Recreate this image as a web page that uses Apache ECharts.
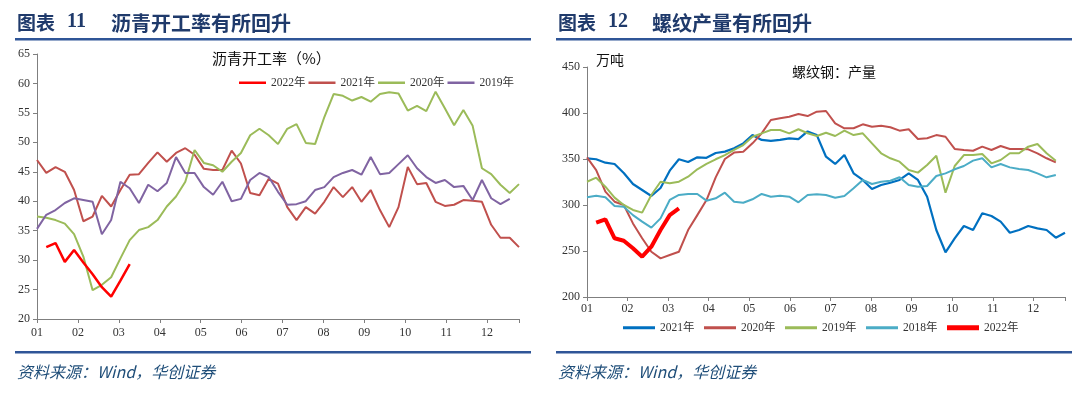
<!DOCTYPE html>
<html lang="zh-CN">
<head>
    <meta charset="UTF-8">
    <title>沥青开工率 / 螺纹产量</title>
    <script src="https://cdn.jsdelivr.net/npm/echarts/dist/echarts.min.js"></script>
    <style>
        body {
            margin: 0;
            background: #fff;
        }
        .wrap {
            display: flex;
            width: 1080px;
            height: 399px;
        }
        .panel {
            width: 540px;
            height: 399px;
        }
    </style>
</head>
<body>
    <div class="wrap">
        <div class="panel" id="chart-left"></div>
        <div class="panel" id="chart-right"></div>
    </div>

    <script>
        // 月份刻度
        const monthLabels = ['01', '02', '03', '04', '05', '06', '07', '08', '09', '10', '11', '12'];

        // 图表11 沥青开工率（%），周度
        const asphalt2022 = [null, 32.2, 32.9, 29.7, 31.7, 29.6, 27.6, 25.4, 23.8, 26.5, 29.3];
        const asphalt2021 = [47.0, 44.8, 45.8, 45.0, 41.9, 36.6, 37.4, 40.9, 39.1, 41.9,
            44.5, 44.6, 46.5, 48.3, 46.7, 48.2, 49.0, 47.9, 45.5, 45.3,
            45.3, 48.6, 46.4, 41.4, 41.0, 43.8, 43.0, 39.0, 36.8, 39.0,
            37.9, 39.9, 42.4, 40.7, 42.4, 39.9, 41.9, 38.5, 35.6, 39.0,
            45.8, 42.9, 43.1, 39.9, 39.2, 39.4, 40.2, 40.1, 39.9, 36.0,
            33.8, 33.8, 32.2];
        const asphalt2020 = [37.4, 37.2, 36.8, 36.2, 34.4, 30.6, 24.9, 25.8, 27.1, 30.3,
            33.4, 35.1, 35.6, 36.8, 39.1, 40.8, 43.3, 48.7, 46.5, 46.1,
            45.0, 46.7, 48.2, 51.2, 52.3, 51.2, 49.7, 52.3, 53.1, 49.9,
            49.7, 54.3, 58.2, 57.9, 57.1, 57.7, 56.9, 58.2, 58.5, 58.3,
            55.4, 56.2, 55.3, 58.6, 55.8, 52.9, 55.5, 52.8, 45.6, 44.6,
            42.8, 41.4, 42.9];
        const asphalt2019 = [35.3, 37.7, 38.5, 39.7, 40.5, 40.2, 39.9, 34.4, 36.8, 43.3,
            42.2, 39.7, 42.8, 41.7, 43.1, 47.5, 44.8, 44.8, 42.4, 41.1,
            43.3, 40.0, 40.4, 43.6, 44.8, 44.1, 41.6, 39.4, 39.5, 40.0,
            41.9, 42.4, 44.1, 44.8, 45.3, 44.5, 47.5, 44.6, 44.8, 46.3,
            47.8, 45.6, 44.1, 43.1, 43.6, 42.4, 42.6, 40.2, 43.6, 40.5,
            39.5, 40.4];

        // 图表12 螺纹钢产量（万吨），周度
        const rebar2021 = [350.7, 349.7, 346, 344.6, 334.8, 322.8, 316.3, 309.8, 318.5, 337.3,
            349.7, 346.7, 351.8, 351.3, 356.5, 358, 361.6, 367, 376, 370.7,
            369.6, 370.7, 372.5, 371.7, 380, 376, 352.5, 344.6, 354.3, 334.4,
            327.2, 317.4, 321.7, 324.2, 327.2, 334.4, 327.2, 309, 272.8, 248.6,
            263.8, 277.2, 272.8, 291, 288, 281.9, 269.9, 272.8, 277.2, 274.6,
            272.8, 264.5, 269.9];
        const rebar2020 = [351.8, 338, 314.5, 303.6, 300, 280, 263.8, 249.2, 242, 245.6,
            249.2, 272.8, 289, 305.4, 330, 350, 357, 358, 367, 377.9,
            392.4, 394.2, 396, 398.9, 396.7, 401.4, 402.2, 388.8, 383.4, 383.4,
            387.7, 385.1, 386.2, 384.5, 380.8, 382.3, 371.7, 372.5, 376, 374.2,
            360.9, 359.8, 359, 363.4, 359.8, 364.1, 360.9, 360.9, 360.5, 356.2,
            350.8, 346.4];
        const rebar2019 = [325.3, 329.7, 319.9, 308, 300, 294.6, 291.7, 310.9, 325.3, 323.6,
            325.3, 330.8, 338.8, 344.6, 349.7, 354.3, 359.8, 365.2, 374.2, 377.9,
            381.5, 381.5, 377.9, 382.3, 378, 375, 378.6, 375, 380.8, 376,
            377.9, 367, 356.2, 350.8, 347.1, 338, 335.2, 343.5, 353.6, 313.4,
            342.4, 354.3, 354.3, 355.4, 345.3, 348.9, 356.2, 356.2, 363.4, 366.3,
            356.2, 348.2];
        const rebar2018 = [308.4, 310.1, 308.4, 298.9, 298.2, 289, 281.9, 275.4, 285.5, 305.5,
            310.9, 312, 312, 304.7, 307.3, 313.4, 303.6, 302.5, 306.2, 312,
            309, 310.1, 309, 302.9, 310.9, 311.6, 310.9, 307.9, 309.8, 318.1,
            327.2, 322.8, 325.3, 326.4, 330.1, 321.7, 319.9, 320.6, 331.5, 334.4,
            338.8, 342.4, 348.2, 350.8, 340.9, 344.6, 340.9, 339.1, 338, 334.4,
            330.1, 332.6];
        const rebar2022 = [null, 280.8, 284.5, 263.8, 261.2, 252.9, 243.8, 254.7, 272.8, 289, 296.4];

        // 周序号（隐藏的类目轴）
        const weeks = Array.from({ length: 53 }, (_, i) => 'W' + (i + 1));

        const serif = "'Liberation Serif', 'Noto Sans CJK SC', serif";
        const cjk = "'Noto Sans CJK SC', sans-serif";
        const axisColor = '#7f7f7f';
        const headBlue = '#1f3a6b';
        const ruleBlue = '#2f5597';

        // 月份刻度轴 + 周度数据轴
        function xAxes(labelMargin) {
            return [
                { type: 'category', data: weeks, boundaryGap: false, show: false, position: 'bottom' },
                {
                    type: 'value', min: 0, max: 11.78, interval: 1, position: 'bottom',
                    axisLine: { lineStyle: { color: axisColor } },
                    axisTick: { length: 4, lineStyle: { color: axisColor } },
                    splitLine: { show: false },
                    axisLabel: {
                        margin: labelMargin, fontFamily: serif, fontSize: 12, color: '#333',
                        formatter: v => Math.abs(v - Math.round(v)) < 1e-6 ? (monthLabels[Math.round(v)] || '') : ''
                    }
                }
            ];
        }

        function yAxis(min, max, interval) {
            return {
                type: 'value', min: min, max: max, interval: interval,
                axisLine: { show: true, lineStyle: { color: axisColor } },
                axisTick: { show: true, length: 4, lineStyle: { color: axisColor } },
                splitLine: { show: false },
                axisLabel: { margin: 7, fontFamily: serif, fontSize: 12, color: '#333' }
            };
        }

        function line(name, data, color, width, z) {
            return {
                name: name, type: 'line', data: data, xAxisIndex: 0,
                symbol: 'none', z: z || 2,
                lineStyle: { color: color, width: width },
                itemStyle: { color: color }
            };
        }

        // 图例：只画线段
        function legendItem(name, w, h) {
            return { name: name, icon: 'path://M0,0H' + w + 'V' + h + 'H0Z' };
        }

        // 标题、分隔线、资料来源
        function frame(num, title, left) {
            return [
                { type: 'text', left: left, top: 13, style: { text: '图表', font: 'bold 19px ' + cjk, fill: headBlue } },
                { type: 'text', left: left + 50, top: 12, style: { text: num, font: 'bold 20px ' + serif, fill: headBlue } },
                { type: 'text', left: left + 94, top: 13, style: { text: title, font: 'bold 20px ' + cjk, fill: headBlue } },
                { type: 'rect', left: left - 2, top: 38, shape: { width: 516, height: 2.5 }, style: { fill: ruleBlue } },
                { type: 'rect', left: left - 2, top: 351, shape: { width: 516, height: 2.5 }, style: { fill: ruleBlue } },
                { type: 'text', left: left, top: 364, style: { text: '资料来源：Wind，华创证券', font: 'italic 16px ' + cjk, fill: '#1f4e79' } }
            ];
        }

        const legendText = { fontFamily: serif, fontSize: 11.5, color: '#333' };

        const leftChart = echarts.init(document.getElementById('chart-left'));
        leftChart.setOption({
            animation: false,
            grid: { left: 37, top: 54, width: 482, height: 265 },
            xAxis: xAxes(8),
            yAxis: yAxis(20, 65, 5),
            legend: {
                data: [
                    legendItem('2022年', 27, 2.5), legendItem('2021年', 27, 2.5),
                    legendItem('2020年', 27, 2.5), legendItem('2019年', 27, 2.5)
                ],
                left: 239, top: 77, width: 300, padding: 0,
                itemWidth: 27, itemHeight: 12, itemGap: 3,
                textStyle: legendText
            },
            graphic: frame('11', '沥青开工率有所回升', 17).concat([
                { type: 'text', left: 212, top: 51, style: { text: '沥青开工率（%）', font: '15px ' + cjk, fill: '#111' } }
            ]),
            series: [
                line('2022年', asphalt2022, '#ff0000', 2.5, 5),
                line('2021年', asphalt2021, '#c0504d', 2),
                line('2020年', asphalt2020, '#9bbb59', 2),
                line('2019年', asphalt2019, '#8064a2', 2)
            ]
        });

        const rightChart = echarts.init(document.getElementById('chart-right'));
        rightChart.setOption({
            animation: false,
            grid: { left: 47, top: 67, width: 478, height: 230 },
            xAxis: xAxes(6),
            yAxis: yAxis(200, 450, 50),
            legend: {
                data: [
                    legendItem('2021年', 32, 3), legendItem('2020年', 32, 3),
                    legendItem('2019年', 32, 3), legendItem('2018年', 32, 3),
                    legendItem('2022年', 32, 5)
                ],
                left: 83, top: 322, width: 450, padding: 0,
                itemWidth: 32, itemHeight: 12, itemGap: 9.5,
                textStyle: legendText
            },
            graphic: frame('12', '螺纹产量有所回升', 18).concat([
                { type: 'text', left: 56, top: 53, style: { text: '万吨', font: '14px ' + cjk, fill: '#111' } },
                { type: 'text', left: 252, top: 65, style: { text: '螺纹钢：产量', font: '14px ' + cjk, fill: '#111' } }
            ]),
            series: [
                line('2021年', rebar2021, '#0070c0', 2.2),
                line('2020年', rebar2020, '#c0504d', 2),
                line('2019年', rebar2019, '#9bbb59', 2),
                line('2018年', rebar2018, '#4bacc6', 2),
                line('2022年', rebar2022, '#ff0000', 4, 5)
            ]
        });
    </script>
</body>
</html>
